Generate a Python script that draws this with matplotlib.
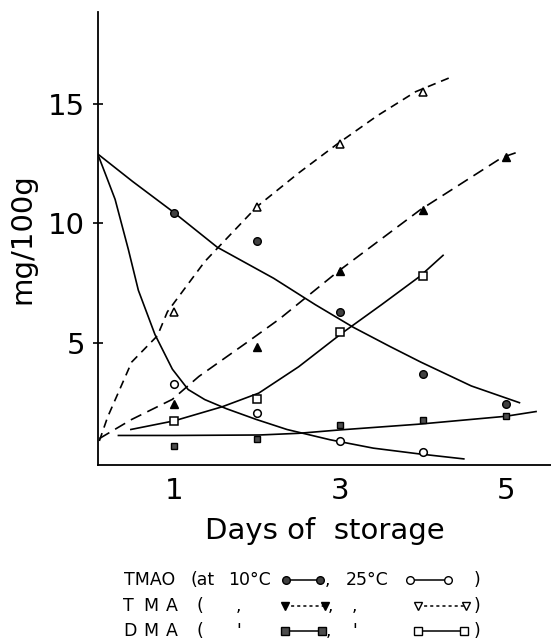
import matplotlib
matplotlib.use("Agg")
import matplotlib.pyplot as plt
from matplotlib.lines import Line2D

# measured points (days, mg/100g)
days = [1, 2, 3, 4, 5]
tmao_10 = [10.45, 9.25, 6.3, 3.7, 2.43]
tmao_25 = [3.3, 2.08, 0.88, 0.45]
tma_10 = [2.45, 4.83, 8.0, 10.55, 12.75]
tma_25 = [6.3, 10.7, 13.3, 15.5]
dma_10 = [0.67, 1.0, 1.55, 1.76, 1.95]
dma_25 = [1.72, 2.66, 5.45, 7.78]

# fitted curves
tmao_10_cx = [0.08, 0.5, 0.98, 1.52, 2.2, 2.7, 3.16, 3.6, 3.97, 4.58, 5.16]
tmao_10_cy = [12.9, 11.75, 10.5, 9.0, 7.7, 6.6, 5.65, 4.85, 4.2, 3.2, 2.5]
tmao_25_cx = [0.08, 0.18, 0.29, 0.45, 0.57, 0.77, 0.98, 1.17, 1.37, 1.63, 1.99, 2.36, 2.88, 3.4, 3.95, 4.49]
tmao_25_cy = [12.9, 12.0, 11.0, 8.9, 7.2, 5.35, 3.9, 3.05, 2.63, 2.25, 1.8, 1.38, 0.95, 0.6, 0.36, 0.15]
tma_10_cx = [0.1, 0.49, 0.98, 1.3, 1.87, 2.27, 2.98, 3.96, 4.95, 5.16]
tma_10_cy = [1.0, 1.8, 2.64, 3.6, 5.0, 6.0, 8.0, 10.55, 12.75, 13.0]
tma_25_cx = [0.1, 0.2, 0.49, 0.8, 0.92, 1.37, 2.0, 2.5, 2.96, 3.45, 3.91, 4.33]
tma_25_cy = [0.9, 1.9, 4.2, 5.3, 6.3, 8.4, 10.7, 12.1, 13.3, 14.5, 15.5, 16.1]
dma_10_cx = [0.33, 1.0, 2.03, 2.5, 2.99, 3.94, 4.99, 5.36]
dma_10_cy = [1.13, 1.13, 1.15, 1.22, 1.36, 1.6, 1.93, 2.13]
dma_25_cx = [0.48, 1.0, 1.58, 2.02, 2.5, 3.02, 3.5, 3.96, 4.24]
dma_25_cy = [1.38, 1.74, 2.33, 2.9, 4.0, 5.4, 6.6, 7.78, 8.66]

fig = plt.figure(figsize=(5.51, 6.43), dpi=100)
ax = fig.add_axes([0.178, 0.277, 0.822, 0.705])

lw = 1.2
ax.plot(tmao_10_cx, tmao_10_cy, color="k", lw=lw)
ax.plot(tmao_25_cx, tmao_25_cy, color="k", lw=lw)
ax.plot(tma_10_cx, tma_10_cy, color="k", lw=lw, linestyle=(0, (7, 4)))
ax.plot(tma_25_cx, tma_25_cy, color="k", lw=lw, linestyle=(0, (5, 3.5)))
ax.plot(dma_10_cx, dma_10_cy, color="k", lw=lw)
ax.plot(dma_25_cx, dma_25_cy, color="k", lw=lw)

ms = 5.5
ax.plot(days, tmao_10, "o", color="k", mfc="0.25", ms=ms)
ax.plot(days[:4], tmao_25, "o", color="k", mfc="white", ms=ms, mew=1.1)
ax.plot(days, tma_10, "^", color="k", mfc="k", ms=ms + 0.5)
ax.plot(days[:4], tma_25, "^", color="k", mfc="white", ms=ms + 0.5, mew=1.1)
ax.plot(days, dma_10, "s", color="k", mfc="0.3", ms=ms - 0.5)
ax.plot(days[:4], dma_25, "s", color="k", mfc="white", ms=ms + 0.5, mew=1.1)

ax.set_xlim(0.085, 5.54)
ax.set_ylim(-0.1, 18.85)
ax.spines["top"].set_visible(False)
ax.spines["right"].set_visible(False)
ax.spines["left"].set_linewidth(1.3)
ax.spines["bottom"].set_linewidth(1.3)

ax.set_xticks([1, 3, 5])
ax.set_yticks([5, 10, 15])
ax.tick_params(axis="x", length=0, labelsize=21, pad=9)
ax.tick_params(axis="y", direction="inout", length=7, width=1.2, labelsize=21, pad=6)
ax.set_xlabel("Days of  storage", fontsize=21, labelpad=8)
ax.set_ylabel("mg/100g", fontsize=21, labelpad=8)

# legend block, drawn as text with sample keys
fs = 12.5
rows_y = [1 - 580 / 643, 1 - 606 / 643, 1 - 631 / 643]


def txt(x, y, s):
    fig.text(x / 551, y, s, fontsize=fs, va="center")


def key(x0, x1, y, marker, mfc, ls):
    X = [x0 / 551, x1 / 551]
    fig.add_artist(Line2D(X, [y, y], color="k", lw=1.1, linestyle=ls,
                          marker=marker, mfc=mfc, mec="k", ms=5.5))


txt(124, rows_y[0], "TMAO")
txt(190, rows_y[0], "(at")
txt(228, rows_y[0], "10°C")
key(286, 320, rows_y[0], "o", "0.25", "-")
txt(325, rows_y[0], ",")
txt(346, rows_y[0], "25°C")
key(410, 448, rows_y[0], "o", "white", "-")
txt(474, rows_y[0], ")")

for y, lab in [(rows_y[1], "T"), (rows_y[2], "D")]:
    txt(123, y, lab)
    txt(143, y, "M")
    txt(166, y, "A")
    txt(197, y, "(")
    txt(474, y, ")")

txt(236, rows_y[1], ",")
key(285, 325, rows_y[1], "v", "k", (0, (2, 2)))
txt(328, rows_y[1], ",")
txt(352, rows_y[1], ",")
key(418, 466, rows_y[1], "v", "white", (0, (2, 2)))

txt(236, rows_y[2], "'")
key(285, 322, rows_y[2], "s", "0.3", "-")
txt(326, rows_y[2], ",")
txt(352, rows_y[2], "'")
key(418, 464, rows_y[2], "s", "white", "-")

fig.savefig("out.png", dpi=100)
